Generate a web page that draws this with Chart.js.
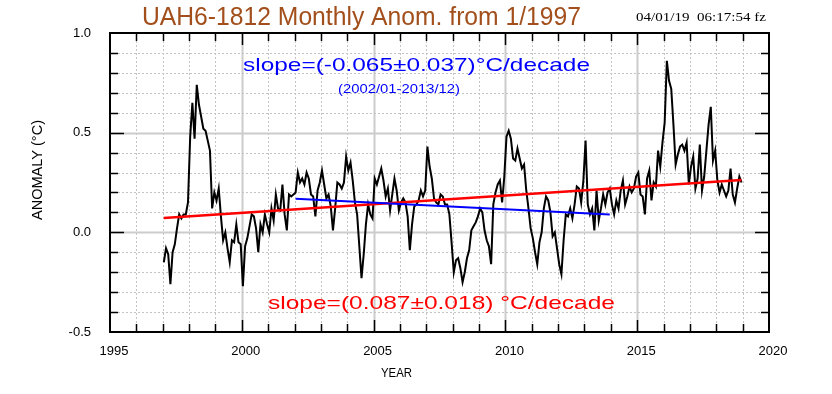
<!DOCTYPE html>
<html>
<head>
<meta charset="utf-8">
<script src="https://cdn.jsdelivr.net/npm/chart.js@4.4.1/dist/chart.umd.min.js"></script>
<style>
  html, body { margin: 0; padding: 0; background: #fff; }
</style>
</head>
<body>
<canvas id="chart" width="832" height="394"></canvas>
<script>
// monthly anomalies (deg C), Jan 1997 .. Dec 2018
const startYear = 1997;
const anomalies = [
  -0.15, -0.08, -0.11, -0.26, -0.10, -0.06,  0.02,  0.09,  0.07,  0.09,  0.09,  0.15, // 1997
   0.48,  0.65,  0.47,  0.74,  0.64,  0.58,  0.52,  0.51,  0.46,  0.41,  0.12,  0.20, // 1998
   0.16,  0.22,  0.08, -0.04,  0.00, -0.08, -0.15, -0.04, -0.05,  0.04, -0.05, -0.06, // 1999
  -0.27, -0.07, -0.03,  0.03,  0.09,  0.08,  0.02, -0.10,  0.04,  0.00,  0.09,  0.04, // 2000
   0.00,  0.12,  0.06,  0.19,  0.12,  0.11,  0.24,  0.09,  0.01,  0.19,  0.18,  0.19, // 2001
   0.20,  0.30,  0.25,  0.27,  0.24,  0.30,  0.27,  0.19,  0.18,  0.08,  0.21,  0.25, // 2002
   0.31,  0.24,  0.17,  0.19,  0.13,  0.01,  0.12,  0.25,  0.24,  0.22,  0.25,  0.38, // 2003
   0.31,  0.35,  0.26,  0.15,  0.09, -0.07, -0.23, -0.11,  0.04,  0.14,  0.09,  0.07, // 2004
   0.27,  0.24,  0.28,  0.32,  0.26,  0.18,  0.22,  0.11,  0.19,  0.27,  0.21,  0.11, // 2005
   0.15,  0.17,  0.15,  0.08, -0.09,  0.04,  0.13,  0.14,  0.16,  0.21,  0.18,  0.21, // 2006
   0.43,  0.33,  0.27,  0.17,  0.15,  0.14,  0.19,  0.18,  0.14,  0.14,  0.09, -0.05, // 2007
  -0.20, -0.14, -0.13, -0.18, -0.25, -0.20, -0.13, -0.09,  0.01,  0.03,  0.05,  0.08, // 2008
   0.12,  0.10,  0.01, -0.04, -0.07, -0.16,  0.14,  0.20,  0.24,  0.26,  0.15,  0.28, // 2009
   0.48,  0.51,  0.47,  0.37,  0.36,  0.42,  0.37,  0.32,  0.34,  0.21,  0.12,  0.02, // 2010
  -0.03, -0.10, -0.16, -0.05,  0.00,  0.12,  0.18,  0.16,  0.10, -0.02,  0.00, -0.08, // 2011
  -0.16, -0.21, -0.04,  0.09,  0.08,  0.12,  0.07,  0.14,  0.23,  0.22,  0.15,  0.26, // 2012
   0.46,  0.14,  0.09,  0.12,  0.01,  0.21,  0.06,  0.12,  0.19,  0.14,  0.20,  0.22, // 2013
   0.14,  0.09,  0.16,  0.12,  0.21,  0.26,  0.14,  0.18,  0.23,  0.20,  0.22,  0.28, // 2014
   0.30,  0.19,  0.18,  0.09,  0.27,  0.31,  0.16,  0.25,  0.23,  0.41,  0.33,  0.45, // 2015
   0.55,  0.86,  0.76,  0.72,  0.54,  0.34,  0.39,  0.43,  0.44,  0.41,  0.45,  0.24, // 2016
   0.33,  0.38,  0.22,  0.27,  0.44,  0.21,  0.28,  0.41,  0.54,  0.63,  0.36,  0.41, // 2017
   0.26,  0.20,  0.24,  0.21,  0.18,  0.21,  0.32,  0.19,  0.15,  0.22,  0.28,  0.25  // 2018
];

// trend lines: whole period and 2002/01-2013/12
const trendAllYears = [1997.04, 2018.96];
const trendAllValues = [0.072, 0.263];
const trendSubYears = [2002.04, 2013.96];
const trendSubValues = [0.168, 0.090];

const xMin = 1995, xMax = 2020;
const yMin = -0.5, yMax = 1.0;

const monthPoints = anomalies.map((v, i) => ({x: startYear + (i + 0.5) / 12, y: v}));
const pairs = (xs, ys) => xs.map((x, i) => ({x: x, y: ys[i]}));

const FONT = '"Liberation Sans", Arial, Helvetica, sans-serif';

// text squeezed/stretched to a given width
function fitText(ctx, text, x, y, width, font, color) {
  ctx.save();
  ctx.font = font;
  ctx.fillStyle = color;
  ctx.textBaseline = 'alphabetic';
  ctx.textAlign = 'left';
  const w = ctx.measureText(text).width;
  ctx.translate(x, y);
  ctx.scale(width / w, 1);
  ctx.fillText(text, 0, 0);
  ctx.restore();
}

const gridPlugin = {
  id: 'gradsGrid',
  beforeDatasetsDraw(chart) {
    const {ctx, chartArea: a, scales: {x, y}} = chart;
    ctx.save();
    for (let yr = xMin + 1; yr < xMax; yr++) {
      const px = Math.round(x.getPixelForValue(yr)) + 0.5;
      ctx.beginPath();
      if (yr % 5 === 0) { ctx.setLineDash([]); ctx.strokeStyle = '#cccccc'; ctx.lineWidth = 2; }
      else { ctx.setLineDash([2, 2]); ctx.strokeStyle = '#c4c4c4'; ctx.lineWidth = 1; }
      ctx.moveTo(px, a.top); ctx.lineTo(px, a.bottom); ctx.stroke();
    }
    for (let k = -4; k < 10; k++) {
      const py = Math.round(y.getPixelForValue(k / 10)) + 0.5;
      ctx.beginPath();
      if (k % 5 === 0) { ctx.setLineDash([]); ctx.strokeStyle = '#cccccc'; ctx.lineWidth = 2; }
      else { ctx.setLineDash([2, 2]); ctx.strokeStyle = '#c4c4c4'; ctx.lineWidth = 1; }
      ctx.moveTo(a.left, py); ctx.lineTo(a.right, py); ctx.stroke();
    }
    ctx.restore();
  },
  afterDatasetsDraw(chart) {
    const {ctx, chartArea: a, scales: {x, y}} = chart;
    ctx.save();
    ctx.strokeStyle = '#000';
    ctx.lineWidth = 1.5;
    ctx.setLineDash([]);
    for (let yr = xMin + 1; yr < xMax; yr++) {
      const px = Math.round(x.getPixelForValue(yr)) + 0.5;
      const len = yr % 5 === 0 ? 12 : 8;
      ctx.beginPath();
      ctx.moveTo(px, a.top); ctx.lineTo(px, a.top + len);
      ctx.moveTo(px, a.bottom); ctx.lineTo(px, a.bottom - len);
      ctx.stroke();
    }
    for (let k = -4; k < 10; k++) {
      const py = Math.round(y.getPixelForValue(k / 10)) + 0.5;
      const len = k % 5 === 0 ? 14 : 8;
      ctx.beginPath();
      ctx.moveTo(a.left, py); ctx.lineTo(a.left + len, py);
      ctx.moveTo(a.right, py); ctx.lineTo(a.right - len, py);
      ctx.stroke();
    }
    ctx.lineWidth = 2;
    ctx.strokeRect(a.left, a.top, a.right - a.left, a.bottom - a.top);

    // annotations
    fitText(ctx, 'slope=(-0.065\u00b10.037)\u00b0C/decade', 243, 71, 347, '19px ' + FONT, '#0000ff');
    fitText(ctx, '(2002/01-2013/12)', 338, 93, 122, '12px ' + FONT, '#0000ff');
    fitText(ctx, 'slope=(0.087\u00b10.018) \u00b0C/decade', 268, 309, 347, '19px ' + FONT, '#ff0000');
    ctx.restore();
  },
  afterDraw(chart) {
    const ctx = chart.ctx;
    ctx.save();
    fitText(ctx, 'UAH6-1812 Monthly Anom. from 1/1997', 142, 25, 439, '25.5px ' + FONT, '#a24f1c');
    fitText(ctx, '04/01/19  06:17:54 fz', 636, 21, 130, '13px "Liberation Serif", "Times New Roman", serif', '#000');
    fitText(ctx, 'YEAR', 381, 377, 31, '13px ' + FONT, '#000');
    ctx.translate(42, 170);
    ctx.rotate(-Math.PI / 2);
    fitText(ctx, 'ANOMALY (\u00b0C)', -50, 0, 100, '14px ' + FONT, '#000');
    ctx.restore();
  }
};

new Chart(document.getElementById('chart'), {
  type: 'line',
  data: {
    datasets: [
      {
        label: 'trend 2002-2013',
        data: pairs(trendSubYears, trendSubValues),
        borderColor: '#0000ff',
        borderWidth: 2,
        pointRadius: 0,
        order: 1
      },
      {
        label: 'trend 1997-2018',
        data: pairs(trendAllYears, trendAllValues),
        borderColor: '#ff0000',
        borderWidth: 2.5,
        pointRadius: 0,
        order: 2
      },
      {
        label: 'UAH6 monthly anomaly',
        data: monthPoints,
        borderColor: '#000000',
        borderWidth: 2,
        pointRadius: 0,
        tension: 0,
        order: 3
      }
    ]
  },
  options: {
    responsive: false,
    animation: false,
    layout: { padding: { top: 33, right: 63, left: 0, bottom: 0 } },
    plugins: { legend: { display: false }, tooltip: { enabled: false }, title: { display: false } },
    scales: {
      x: {
        type: 'linear',
        min: xMin, max: xMax,
        grid: { display: false, drawTicks: false },
        border: { display: false },
        afterFit: s => { s.height = 62; },
        ticks: {
          stepSize: 1, autoSkip: false, maxRotation: 0, padding: 12, labelOffset: 4,
          color: '#000', font: { family: FONT, size: 13 },
          callback: v => (Math.round(v) % 5 === 0 ? String(Math.round(v)) : '')
        }
      },
      y: {
        min: yMin, max: yMax,
        grid: { display: false, drawTicks: false },
        border: { display: false },
        afterFit: s => { s.width = 110; },
        ticks: {
          stepSize: 0.1, autoSkip: false, padding: 19,
          color: '#000', font: { family: FONT, size: 13 },
          callback: v => { const r = Math.round(v * 10); return r % 5 === 0 ? (r / 10).toFixed(1) : ''; }
        }
      }
    }
  },
  plugins: [gridPlugin]
});
</script>
</body>
</html>
